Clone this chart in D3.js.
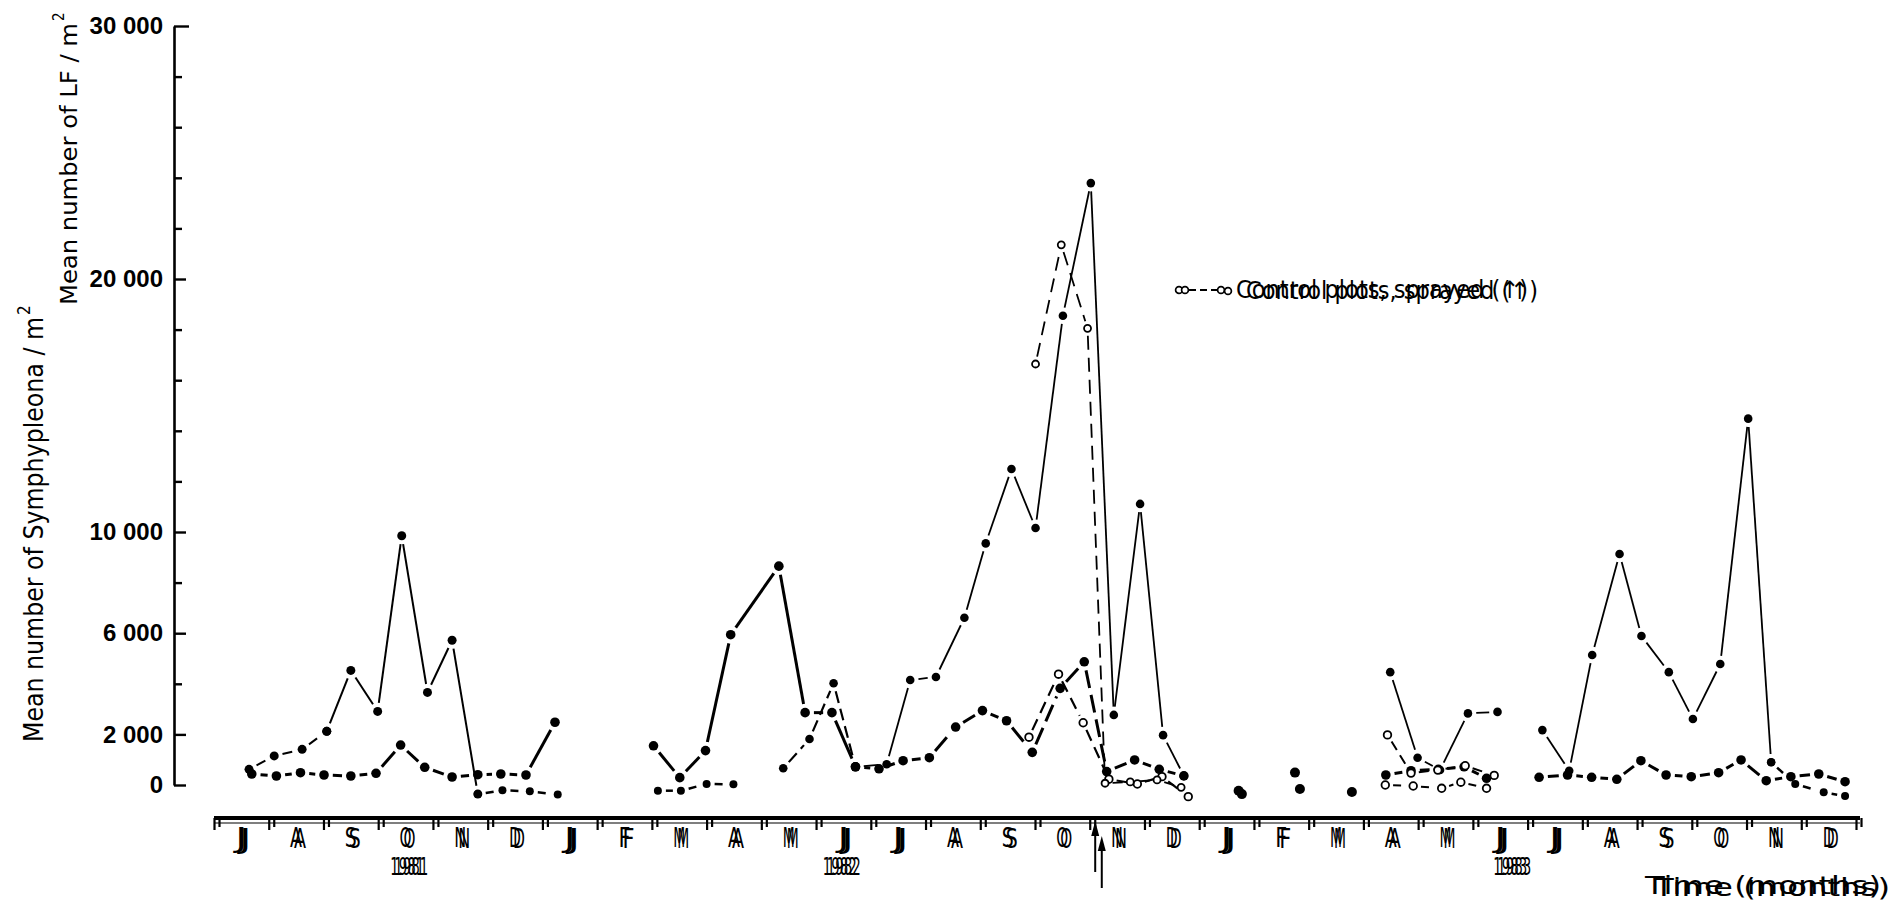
<!DOCTYPE html>
<html>
<head>
<meta charset="utf-8">
<script src="https://cdn.jsdelivr.net/npm/d3@7/dist/d3.min.js"></script>
<style>
  body { margin: 0; background: #fff; }
  text { fill: #000; }
</style>
</head>
<body>
<div id="chart"></div>
<script>
// Month index 0 = July 1981 ... 29 = December 1983
const months = ["J","A","S","O","N","D","J","F","M","A","M","J","J","A","S","O","N","D","J","F","M","A","M","J","J","A","S","O","N","D"];
const years = [["1981", 3.05], ["1982", 10.95], ["1983", 23.2]];
const yTicks = d3.range(0, 30001, 2000);
const yLabels = { 0: "0", 2000: "2 000", 6000: "6 000", 10000: "10 000", 20000: "20 000", 30000: "30 000" };
const sprayMonths = [15.6, 15.72];

// [month index, mean number / m2]
const s81Dash = [[0.14, 620], [0.60, 1150], [1.11, 1410], [1.56, 2120]];
const s81Peak = [[1.56, 2120], [2.00, 4530], [2.49, 2910], [2.93, 9850], [3.40, 3660], [3.85, 5720], [4.32, -360]];
const s81Tail = [[4.32, -360], [4.77, -210], [5.27, -250], [5.78, -380]];
const s81Low = [[0.19, 435], [0.64, 356], [1.08, 486], [1.51, 395], [2.00, 356], [2.46, 462], [2.91, 1580],
                [3.35, 700], [3.85, 316], [4.32, 407], [4.74, 435], [5.20, 395], [5.73, 2480]];

const s82Low = [[7.61, -225], [8.03, -225], [8.50, 40], [8.99, 28]];
const s82Thick = [[7.53, 1550], [8.01, 290], [8.48, 1360], [8.94, 5940], [9.82, 8650], [10.30, 2860], [10.79, 2860], [11.22, 720]];
const s82Mid = [[9.90, 660], [10.38, 1820], [10.82, 4020], [11.22, 720]];
const s82Upper = [[11.22, 720], [11.79, 820], [12.22, 4150], [12.69, 4270], [13.21, 6610], [13.60, 9550], [14.07, 12490],
                  [14.51, 10160], [15.01, 18550], [15.52, 23790], [15.94, 2770], [16.42, 11110], [16.84, 1970], [17.22, 360]];
const s82Base = [[11.22, 720], [11.65, 640], [12.09, 960], [12.57, 1080], [13.05, 2290], [13.54, 2940], [13.98, 2540],
                 [14.45, 1290], [14.96, 3820], [15.40, 4870], [15.81, 530], [16.32, 990], [16.77, 620], [17.22, 360]];
const ctrlHigh82 = [[14.51, 16640], [14.98, 21350], [15.46, 18050], [15.78, 70], [16.24, 120], [16.73, 200], [17.17, -90]];
const ctrlLow82 = [[14.39, 1890], [14.93, 4380], [15.38, 2460], [15.85, 230], [16.37, 40], [16.82, 330], [17.30, -460]];

const winter83 = [[18.22, -225], [18.28, -360], [19.25, 490], [19.34, -160], [20.29, -280]];
const spring83Upper = [[20.99, 4460], [21.49, 1080], [21.90, 590], [22.41, 2830], [22.95, 2890]];
const spring83Base = [[20.91, 395], [21.37, 565], [21.87, 620], [22.34, 720], [22.75, 265]];
const ctrlHigh83 = [[20.94, 1980], [21.37, 470], [21.86, 590], [22.36, 760], [22.89, 380]];
const ctrlLow83 = [[20.90, 0], [21.41, -40], [21.93, -130], [22.28, 110], [22.75, -130]];

const summer83Upper = [[23.77, 2170], [24.26, 565], [24.68, 5140], [25.18, 9130], [25.58, 5890], [26.08, 4460],
                       [26.52, 2610], [27.02, 4780], [27.53, 14480], [27.95, 900]];
const summer83Tail = [[27.95, 900], [28.39, 40], [28.91, -290], [29.30, -435]];
const summer83Base = [[23.71, 304], [24.23, 395], [24.67, 304], [25.13, 225], [25.57, 960], [26.03, 395], [26.49, 328],
                      [26.99, 486], [27.40, 990], [27.86, 170], [28.31, 328], [28.82, 435], [29.30, 130]];

const width = 1895, height = 902;
const condensed = "'DejaVu Sans Condensed', 'DejaVu Sans', sans-serif";

const x = d3.scaleLinear().domain([-0.5, 29.5]).range([214, 1856]);
const y = d3.scaleLinear().domain([0, 30000]).range([785, 26]);

const svg = d3.select("#chart").append("svg")
    .attr("width", width).attr("height", height)
    .attr("viewBox", [0, 0, width, height]);

// Y axis (ticks pointing right, labels left)
const yAxis = svg.append("g")
    .attr("transform", "translate(174,0)")
    .call(d3.axisLeft(y).tickValues(yTicks).tickSizeInner(-8).tickSizeOuter(0)
        .tickPadding(11).tickFormat(d => yLabels[d] || ""));
yAxis.select(".domain").attr("stroke", "#000").attr("stroke-width", 2.6);
yAxis.selectAll(".tick line").attr("stroke", "#000").attr("stroke-width", 2.4)
    .attr("x2", d => d === 30000 ? 15 : (yLabels[d] ? 12 : 8));
yAxis.selectAll(".tick text")
    .attr("font-family", "'Liberation Sans', Arial, sans-serif")
    .attr("font-weight", "bold").attr("font-size", 24).attr("fill", "#000");

// Y titles
const t1 = svg.append("g").attr("transform", "translate(43,742) rotate(-90)");
t1.append("text").attr("font-family", condensed).attr("font-size", 27)
    .attr("textLength", 425).attr("lengthAdjust", "spacingAndGlyphs")
    .text("Mean number  of Symphypleona / m");
t1.append("text").attr("x", 427).attr("y", -13).attr("font-family", condensed).attr("font-size", 17).text("2");

const t2 = svg.append("g").attr("transform", "translate(77,305) rotate(-90)");
t2.append("text").attr("font-family", condensed).attr("font-size", 23)
    .attr("textLength", 282).attr("lengthAdjust", "spacingAndGlyphs")
    .text("Mean  number  of  LF / m");
t2.append("text").attr("x", 284).attr("y", -13).attr("font-family", condensed).attr("font-size", 15).text("2");

// X axis: thick double bar with doubled boundary ticks
const bounds = d3.range(-0.5, 30, 1);
svg.append("line").attr("x1", x(-0.5)).attr("x2", x(29.5) + 4).attr("y1", 818).attr("y2", 818)
    .attr("stroke", "#000").attr("stroke-width", 4);
svg.append("line").attr("x1", x(-0.5)).attr("x2", x(29.5) + 4).attr("y1", 823).attr("y2", 823)
    .attr("stroke", "#000").attr("stroke-width", 1.2);
[0, 5].forEach(off => {
    const ax = svg.append("g").attr("transform", `translate(${off},818)`)
        .call(d3.axisBottom(x).tickValues(bounds).tickSize(off ? 9 : 12).tickFormat(""));
    ax.select(".domain").remove();
    ax.selectAll(".tick line").attr("stroke", "#000").attr("stroke-width", 2.2);
});

// the scan is a double exposure, so the axis texts are printed twice, slightly shifted
[0, 4].forEach(off => {
    svg.append("g").selectAll("text").data(months).join("text")
        .attr("x", (d, i) => x(i) + off)
        .attr("y", 847 + off / 4)
        .attr("text-anchor", "middle")
        .attr("font-family", condensed).attr("font-size", 26)
        .attr("textLength", 12).attr("lengthAdjust", "spacingAndGlyphs")
        .text(d => d);
});

[0, 4].forEach(off => {
    svg.append("g").selectAll("text").data(years).join("text")
        .attr("x", d => x(d[1]) - 18 + off)
        .attr("y", 875)
        .attr("font-family", condensed).attr("font-size", 25)
        .attr("textLength", 34).attr("lengthAdjust", "spacingAndGlyphs")
        .text(d => d[0]);
});

[[1645, 894], [1654, 896]].forEach(([tx, ty]) => {
    svg.append("text").attr("x", tx).attr("y", ty)
        .attr("font-family", condensed).attr("font-size", 24)
        .attr("textLength", 236).attr("lengthAdjust", "spacingAndGlyphs")
        .text("Time (months)");
});

// spray arrows
sprayMonths.forEach((m, i) => {
    const ax = x(m), top = 821 + i * 15, bottom = 872 + i * 16;
    svg.append("line").attr("x1", ax).attr("x2", ax).attr("y1", top + 10).attr("y2", bottom)
        .attr("stroke", "#000").attr("stroke-width", 2);
    svg.append("path").attr("d", `M${ax},${top}L${ax - 4},${top + 15}L${ax + 4},${top + 15}Z`).attr("fill", "#000");
});

// series
const series = [
    { data: s81Low, w: 3, r: 4.8 },
    { data: s81Dash, w: 2, r: 4.5, dash: "10,7" },
    { data: s81Peak, w: 2, r: 4.5 },
    { data: s81Tail, w: 2.5, r: 4, dash: "8,6" },
    { data: s82Low, w: 2.5, r: 4, dash: "8,6" },
    { data: s82Thick, w: 3, r: 4.8 },
    { data: s82Mid, w: 2.2, r: 4.3, dash: "12,6" },
    { data: s82Base, w: 3, r: 4.8, dash: "18,7" },
    { data: s82Upper, w: 1.8, r: 4.3 },
    { data: ctrlLow82, w: 2.2, r: 3.8, dash: "12,7", open: true },
    { data: ctrlHigh82, w: 1.8, r: 3.5, dash: "14,8", open: true },
    { data: winter83, w: 0, r: 5 },
    { data: spring83Base, w: 3, r: 4.8 },
    { data: spring83Upper, w: 1.8, r: 4.3 },
    { data: ctrlHigh83, w: 2, r: 3.8, dash: "10,6", open: true },
    { data: ctrlLow83, w: 2, r: 3.8, dash: "8,5", open: true },
    { data: summer83Base, w: 3, r: 4.8 },
    { data: summer83Upper, w: 1.8, r: 4.3 },
    { data: summer83Tail, w: 2.5, r: 4, dash: "8,6" }
];

const lineLayer = svg.append("g");
const dotLayer = svg.append("g");
const openLayer = svg.append("g");

series.forEach(s => {
    const pts = s.data.map(d => [x(d[0]), y(d[1])]);
    const gap = s.r + 4;
    if (s.w > 0) {
        d3.pairs(pts).forEach(([a, b]) => {
            const dx = b[0] - a[0], dy = b[1] - a[1], len = Math.hypot(dx, dy);
            if (len <= 2 * gap) return;
            const ux = dx / len, uy = dy / len;
            lineLayer.append("line")
                .attr("x1", a[0] + ux * gap).attr("y1", a[1] + uy * gap)
                .attr("x2", b[0] - ux * gap).attr("y2", b[1] - uy * gap)
                .attr("stroke", "#000").attr("stroke-width", s.w)
                .attr("stroke-dasharray", s.dash || null);
        });
    }
    (s.open ? openLayer : dotLayer).append("g").selectAll("circle").data(pts).join("circle")
        .attr("cx", d => d[0]).attr("cy", d => d[1]).attr("r", s.r)
        .attr("fill", s.open ? "#fff" : "#000")
        .attr("stroke", "#000").attr("stroke-width", s.open ? 1.8 : 0);
});

// legend
const lg = svg.append("g").attr("transform", "translate(1175,290)");
lg.append("line").attr("x1", 14).attr("x2", 44).attr("y1", 0).attr("y2", 0)
    .attr("stroke", "#000").attr("stroke-width", 1.8).attr("stroke-dasharray", "7,4");
[4, 10, 46, 53].forEach(cx => {
    lg.append("circle").attr("cx", cx).attr("cy", cx % 2 ? 1 : 0).attr("r", 3.4)
        .attr("fill", "#fff").attr("stroke", "#000").attr("stroke-width", 1.7);
});
[[61, 8], [71, 9]].forEach(([tx, ty]) => {
    lg.append("text").attr("x", tx).attr("y", ty)
        .attr("font-family", condensed).attr("font-size", 24)
        .attr("textLength", 292).attr("lengthAdjust", "spacingAndGlyphs")
        .text("Control plots, sprayed (\u2191)");
});
</script>
</body>
</html>
